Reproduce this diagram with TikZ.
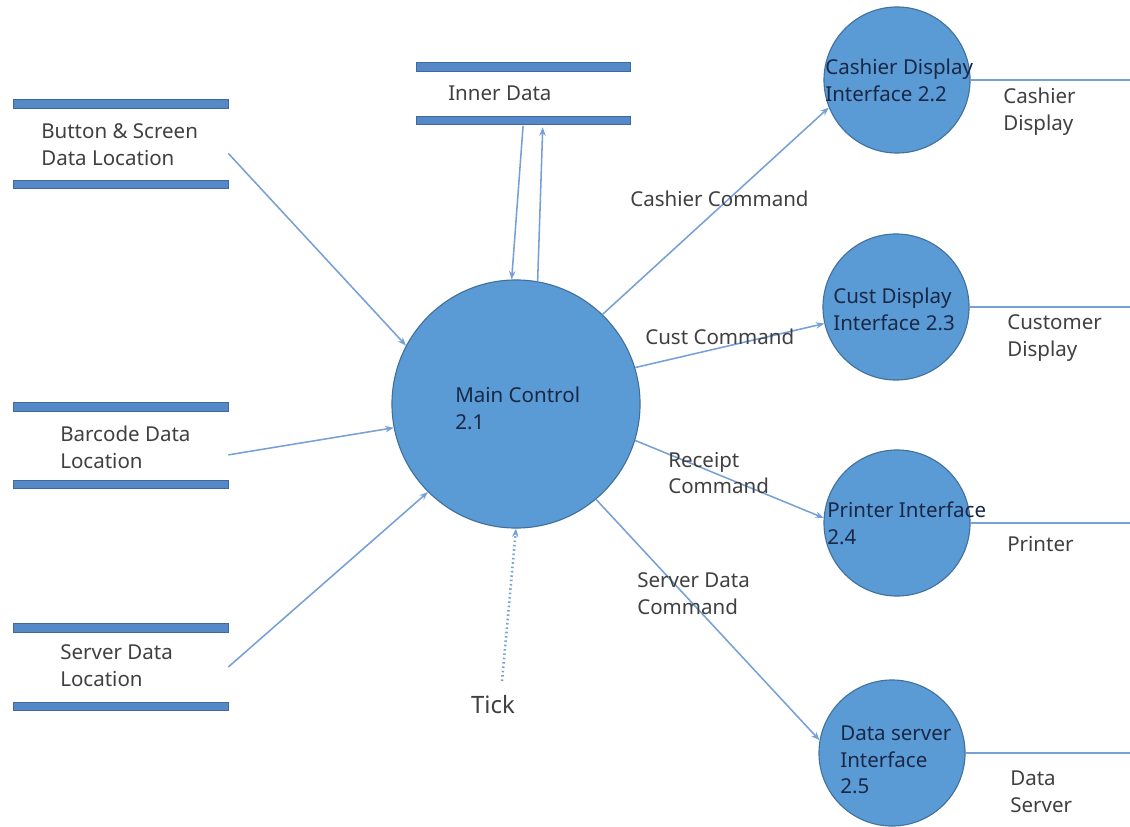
\documentclass[tikz,border=0pt]{standalone}
\usepackage{fontspec}
\setmainfont{Noto Sans}
\usetikzlibrary{arrows.meta}
\definecolor{procfill}{RGB}{91,155,213}
\definecolor{procedge}{RGB}{65,113,156}
\definecolor{barfill}{RGB}{84,136,199}
\definecolor{baredge}{RGB}{65,105,160}
\definecolor{flowcol}{RGB}{118,160,214}
\definecolor{txtgray}{RGB}{64,64,64}
\definecolor{txtnavy}{RGB}{25,40,70}
\begin{document}
\begin{tikzpicture}[x=0.025cm,y=-0.025cm,
  proc/.style={circle, fill=procfill, draw=procedge, line width=0.8pt, minimum size=3.65cm, inner sep=0pt},
  store/.style={rectangle, minimum width=5.35cm, inner sep=0pt},
  bar/.style={draw=baredge, fill=barfill, line width=0.4pt},
  txt/.style={text=txtgray, font=\fontsize{14.6}{19}\selectfont, align=left, inner sep=0pt, anchor=west},
  ptxt/.style={txt, text=txtnavy},
  flow/.style={draw=flowcol, line width=1.1pt, -{Stealth[length=6pt,width=4.6pt]}},
  wire/.style={draw=flowcol, line width=1.1pt},
]
\useasboundingbox (0,0) rectangle (1130,827);
\coordinate (edge) at (1130,0);

% data stores (two parallel bars each)
\node[store, minimum width=5.33cm, minimum height=1.325cm] (in) at (523.5,93.5) {};
\node[store, minimum height=2cm]     (bs) at (121,144) {};
\node[store, minimum height=1.925cm] (bc) at (121,445.5) {};
\node[store, minimum height=1.95cm]  (sd) at (121,667) {};
\foreach \s in {in,bs,bc,sd}{
  \filldraw[bar] ([yshift=0.11cm]\s.north west) rectangle ([yshift=-0.11cm]\s.north east);
  \filldraw[bar] ([yshift=0.11cm]\s.south west) rectangle ([yshift=-0.11cm]\s.south east);
}
\node[txt] (in-t) at (448,93) {Inner Data};
\node[txt] (bs-t) at (41,145) {Button \& Screen\\Data Location};
\node[txt] (bc-t) at (60,447) {Barcode Data\\Location};
\node[txt] (sd-t) at (60,666) {Server Data\\Location};

% processes
\node[proc, minimum size=6.2cm] (mc) at (516,404) {};
\node[proc] (cd) at (897,80) {};
\node[proc] (cu) at (896,307) {};
\node[proc] (pr) at (897,523) {};
\node[proc] (ds) at (892,753) {};
\node[ptxt] (mc-t) at (455,408) {Main Control\\2.1};
\node[ptxt] (cd-t) at (825,80) {Cashier Display\\Interface 2.2};
\node[ptxt] (cu-t) at (833,309) {Cust Display\\Interface 2.3};
\node[ptxt] (pr-t) at (827,523) {Printer Interface\\2.4};
\node[ptxt] (ds-t) at (840,760) {Data server\\Interface\\2.5};

% inputs to main control
\draw[flow] (bs.-5) -- (mc.152);
\draw[flow] (bc.-5) -- (mc.191);
\draw[flow] (sd.east) -- (mc.225);
\draw[flow, shorten <=4pt] (in.south) -- (mc.92);
\draw[flow, shorten >=5pt] (mc.80) -- (in.-54);

% clock tick
\node[txt, anchor=center, font=\fontsize{17}{20}\selectfont, text=txtgray] (tk) at (493,705) {Tick};
\coordinate (tk-src) at (502,681);
\draw[flow, dotted, line width=1.8pt, -{Stealth[length=6pt,width=4.6pt]}] (tk-src) -- (mc.270);

% commands to interfaces
\draw[flow] (mc.46) -- (cd.202);
\draw[flow] (mc.17) -- (cu.193);
\draw[flow] (mc.-17) -- (pr.176);
\draw[flow] (mc.-50) -- (ds.170);
\node[txt] (l-cc) at (630,199) {Cashier Command};
\node[txt] (l-uc) at (645,337) {Cust Command};
\node[txt] (l-rc) at (668,473) {Receipt\\Command};
\node[txt] (l-sc) at (637,594) {Server Data\\Command};

% outputs to external devices
\draw[wire] (cd.east) -- (cd.east -| edge);
\draw[wire] (cu.east) -- (cu.east -| edge);
\draw[wire] (pr.east) -- (pr.east -| edge);
\draw[wire] (ds.east) -- (ds.east -| edge);
\node[txt] (o-cd) at (1003,112) {Cashier\\Display};
\node[txt] (o-cu) at (1007,338) {Customer\\Display};
\node[txt] (o-pr) at (1007,544) {Printer};
\node[txt] (o-ds) at (1010,792) {Data\\Server};
\end{tikzpicture}
\end{document}
